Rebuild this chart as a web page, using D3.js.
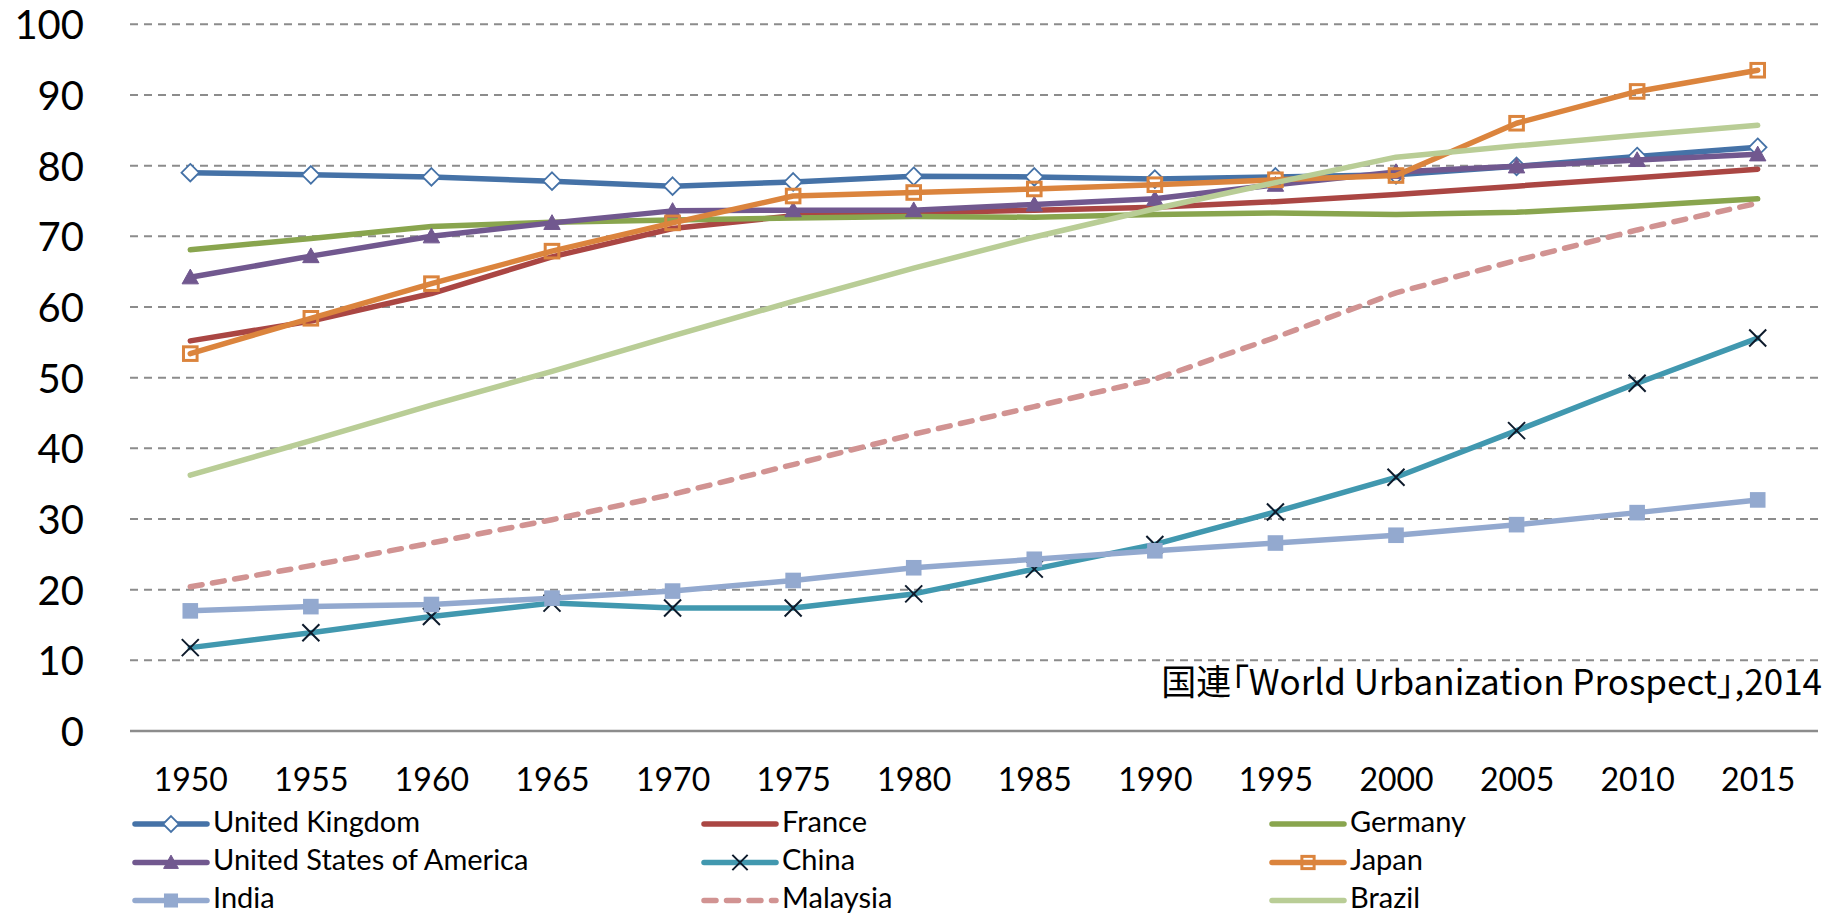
<!DOCTYPE html>
<html>
<head>
<meta charset="utf-8">
<script src="https://cdn.jsdelivr.net/npm/d3@7"></script>
<style>
  html, body { margin: 0; padding: 0; background: #ffffff; }
  svg { display: block; }
  .src { font-feature-settings: "palt" 1; }
</style>
</head>
<body>
<svg id="chart" width="1840" height="915"></svg>
<script>
// ---- data (urban population share, %) ----
const years = ["1950","1955","1960","1965","1970","1975","1980","1985","1990","1995","2000","2005","2010","2015"];
const yTicks = [0,10,20,30,40,50,60,70,80,90,100];

const seriesNames = ["United Kingdom","France","Germany","United States of America","China","Japan","India","Malaysia","Brazil"];

const ukValues       = [79.0,78.7,78.4,77.8,77.1,77.7,78.5,78.4,78.1,78.4,78.7,79.9,81.3,82.6];
const franceValues   = [55.2,58.0,61.9,67.1,71.1,72.9,73.3,73.7,74.1,74.9,75.9,77.1,78.3,79.5];
const germanyValues  = [68.1,69.7,71.4,72.0,72.3,72.6,72.8,72.7,73.1,73.3,73.1,73.4,74.3,75.3];
const usaValues      = [64.2,67.2,70.0,71.9,73.6,73.7,73.7,74.5,75.3,77.3,79.1,79.9,80.8,81.6];
const chinaValues    = [11.8,13.9,16.2,18.1,17.4,17.4,19.4,22.9,26.4,31.0,35.9,42.5,49.2,55.6];
const japanValues    = [53.4,58.4,63.3,67.9,71.9,75.7,76.2,76.7,77.3,78.0,78.6,86.0,90.5,93.5];
const indiaValues    = [17.0,17.6,17.9,18.8,19.8,21.3,23.1,24.3,25.5,26.6,27.7,29.2,30.9,32.7];
const malaysiaValues = [20.4,23.4,26.6,29.9,33.5,37.7,42.0,45.9,49.8,55.7,62.0,66.6,70.9,74.7];
const brazilValues   = [36.2,41.1,46.1,50.9,55.9,60.8,65.5,69.9,73.9,77.6,81.2,82.8,84.3,85.7];

const sourceText = "国連「World Urbanization Prospect」,2014";

// ---- styles ----
const styles = {
  "United Kingdom":           {color:"#4572A7", marker:"diamond"},
  "France":                   {color:"#AA4643", marker:null},
  "Germany":                  {color:"#89A54E", marker:null},
  "United States of America": {color:"#71588F", marker:"triangle"},
  "China":                    {color:"#4198AF", marker:"x"},
  "Japan":                    {color:"#DB843D", marker:"squareOpen"},
  "India":                    {color:"#93A9CF", marker:"square"},
  "Malaysia":                 {color:"#D19392", marker:null, dash:true},
  "Brazil":                   {color:"#B9CD96", marker:null}
};

const valuesList = [ukValues,franceValues,germanyValues,usaValues,chinaValues,japanValues,indiaValues,malaysiaValues,brazilValues];
const series = seriesNames.map((n,i)=>({name:n, values:valuesList[i], ...styles[n]}));

const svg = d3.select("#chart");
const plotLeft = 130, plotRight = 1818, plotTop = 24.3, plotBottom = 731;

const x = d3.scalePoint().domain(years).range([plotLeft, plotRight]).padding(0.5);
const y = d3.scaleLinear().domain([0,100]).range([plotBottom, plotTop]);

const axisFont = "Lato, 'Open Sans', sans-serif";
const lineW = 5.5;
const dashPattern = "12,10.5";

// gridlines
svg.append("g").selectAll("line").data(yTicks.filter(t=>t>0)).join("line")
  .attr("x1", plotLeft).attr("x2", plotRight)
  .attr("y1", d=>y(d)).attr("y2", d=>y(d))
  .attr("stroke", "#8c8c8c").attr("stroke-width", 2)
  .attr("stroke-dasharray", "8,6");

// y axis labels
const yAxis = d3.axisLeft(y).tickValues(yTicks).tickSize(0).tickPadding(0).tickFormat(d3.format("d"));
const gy = svg.append("g").attr("transform", `translate(84,0)`).call(yAxis);
gy.select(".domain").remove();
gy.selectAll("text").attr("font-family", axisFont).attr("font-size", 40).attr("fill", "#000").attr("dy", "0.36em");

// x axis line
svg.append("line").attr("x1", plotLeft).attr("x2", plotRight).attr("y1", y(0)).attr("y2", y(0))
  .attr("stroke", "#8c8c8c").attr("stroke-width", 2.5);

// x labels
const xAxis = d3.axisBottom(x).tickSize(0).tickPadding(0);
const gx = svg.append("g").attr("transform", `translate(0,791)`).call(xAxis);
gx.select(".domain").remove();
gx.selectAll("text").attr("font-family", axisFont).attr("font-size", 32).attr("fill", "#000").attr("dy", 0);

// marker drawing
function drawMarker(g, type, color, cx, cy, scale) {
  const s = scale || 1;
  if (type === "diamond") {
    const h = 8.8*s;
    g.append("path").attr("d", `M${cx},${cy-h}L${cx+h},${cy}L${cx},${cy+h}L${cx-h},${cy}Z`)
      .attr("fill", "#fff").attr("stroke", color).attr("stroke-width", 1.8);
  } else if (type === "triangle") {
    const h = 8.2*s;
    g.append("path").attr("d", `M${cx},${cy-h}L${cx+h},${cy+h*0.8}L${cx-h},${cy+h*0.8}Z`)
      .attr("fill", color).attr("stroke", color).attr("stroke-width", 1);
  } else if (type === "x") {
    const h = 8.5*s;
    g.append("path").attr("d", `M${cx-h},${cy-h}L${cx+h},${cy+h}M${cx+h},${cy-h}L${cx-h},${cy+h}`)
      .attr("fill", "none").attr("stroke", "#0d1a2b").attr("stroke-width", 2);
  } else if (type === "squareOpen") {
    const h = 6.8*s;
    g.append("rect").attr("x", cx-h).attr("y", cy-h).attr("width", 2*h).attr("height", 2*h)
      .attr("fill", "none").attr("stroke", color).attr("stroke-width", 3);
  } else if (type === "square") {
    const h = 7.8*s;
    g.append("rect").attr("x", cx-h).attr("y", cy-h).attr("width", 2*h).attr("height", 2*h)
      .attr("fill", color).attr("stroke", "none");
  }
}

const line = d3.line().x((d,i)=>x(years[i])).y(d=>y(d));

series.forEach(s=>{
  const g = svg.append("g");
  g.append("path").attr("d", line(s.values))
    .attr("fill", "none").attr("stroke", s.color).attr("stroke-width", lineW)
    .attr("stroke-linejoin", "round").attr("stroke-linecap", "round")
    .attr("stroke-dasharray", s.dash ? dashPattern : null);
  if (s.marker) {
    s.values.forEach((v,i)=>drawMarker(g, s.marker, s.color, x(years[i]), y(v)));
  }
});

// source note
svg.append("text").attr("class", "src").attr("x", 1822).attr("y", 695).attr("text-anchor", "end")
  .attr("font-family", "'Noto Sans CJK JP', 'Noto Sans', sans-serif").attr("font-size", 35)
  .attr("fill", "#000").text(sourceText);

// legend
const legCols = [135, 704, 1272], legRows = [824, 862.5, 900.5];
const leg = svg.append("g");
series.forEach((s,i)=>{
  const cx0 = legCols[i%3], cy = legRows[Math.floor(i/3)];
  const g = leg.append("g");
  g.append("line").attr("x1", cx0).attr("x2", cx0+72).attr("y1", cy).attr("y2", cy)
    .attr("stroke", s.color).attr("stroke-width", lineW).attr("stroke-linecap", "round")
    .attr("stroke-dasharray", s.dash ? dashPattern : null);
  if (s.marker) drawMarker(g, s.marker, s.color, cx0+36, cy, 0.9);
  g.append("text").attr("x", cx0+78).attr("y", cy + 7.5)
    .attr("font-family", axisFont).attr("font-size", 29).attr("fill", "#000").text(s.name);
});
</script>
</body>
</html>
